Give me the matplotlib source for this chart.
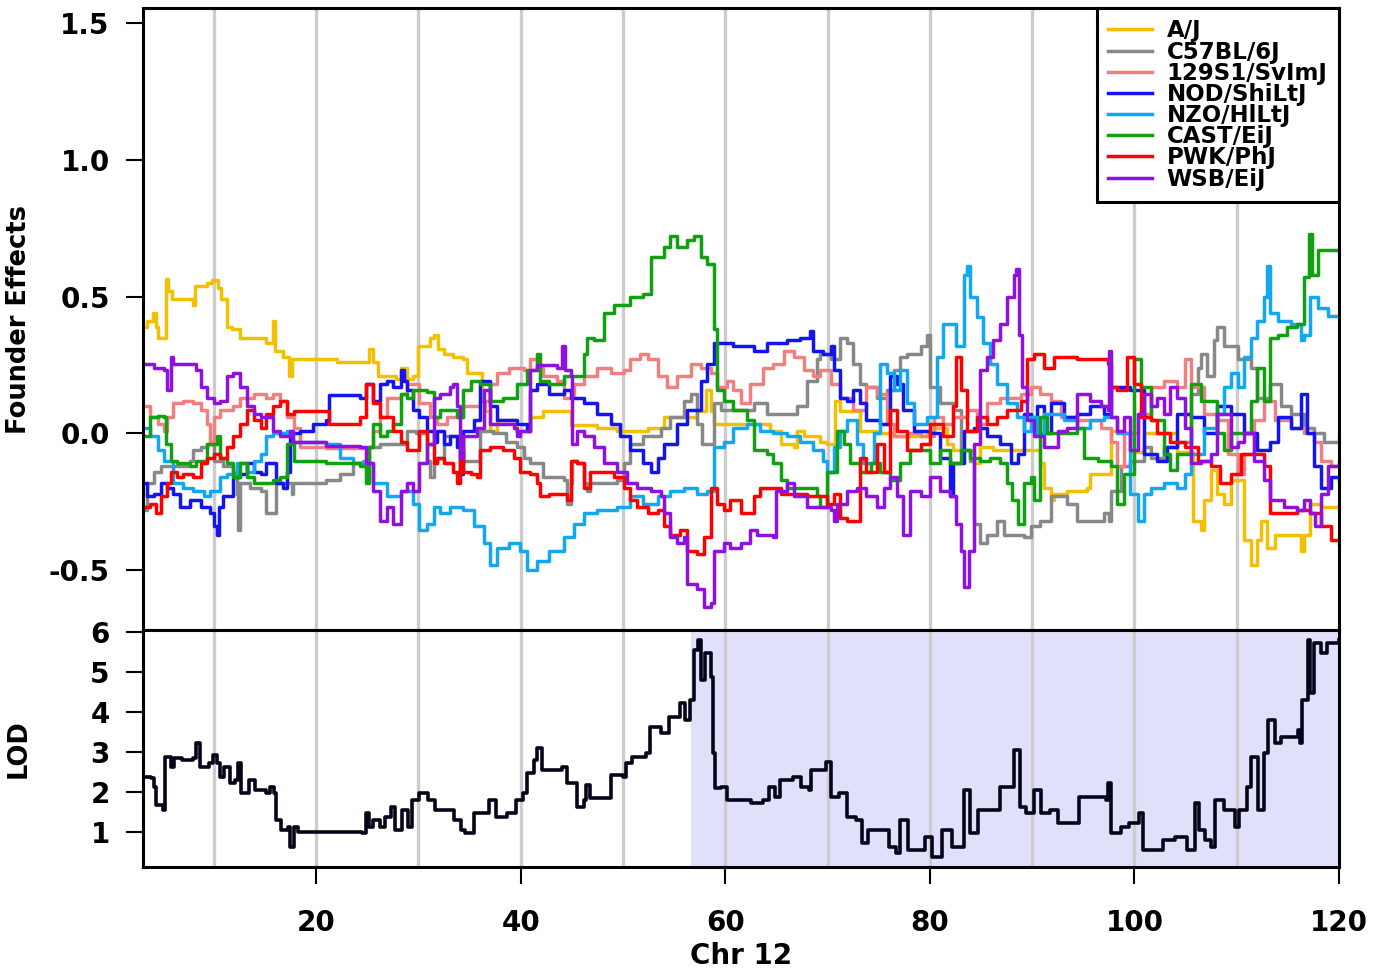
import numpy as np
import matplotlib
matplotlib.use("Agg")
import matplotlib.pyplot as plt

plt.rcParams["font.family"] = ["DejaVu Sans"]
plt.rcParams["font.weight"] = "bold"

# founder allele effects along Chr 12 (cM)
strains = ["A/J", "C57BL/6J", "129S1/SvImJ", "NOD/ShiLtJ",
           "NZO/HlLtJ", "CAST/EiJ", "PWK/PhJ", "WSB/EiJ"]
colors = ["#F2C000", "#888888", "#F08080", "#1414F0",
          "#10A8F0", "#10A010", "#FF0000", "#9010E0"]

aj_x = [3.3, 3.5, 4.0, 4.3, 4.5, 5.1, 5.3, 5.5, 5.9, 8.0, 8.2, 9.3, 9.8, 10.4, 10.7, 11.3, 11.8, 12.6, 13.5, 15.1,
        15.8, 16.0, 16.8, 17.3, 17.6, 18.1, 21.3, 22.0, 25.2, 25.6, 26.0, 27.8, 28.3, 28.9, 29.5, 30.0, 31.1, 31.5,
        31.9, 32.5, 33.4, 34.4, 34.7, 36.2, 36.5, 37.0, 37.7, 39.5, 40.9, 42.2, 44.9, 47.5, 49.4, 52.4, 54.0, 56.0,
        57.25, 58.1, 58.6, 58.9, 62.8, 64.4, 65.4, 66.7, 67.0, 67.7, 69.3, 69.9, 70.7, 71.2, 73.2, 74.8, 76.5, 79.7,
        80.4, 81.7, 82.3, 84.3, 84.9, 86.2, 88.6, 90.8, 91.2, 91.8, 92.1, 93.4, 95.4, 95.7, 97.7, 98.7, 99.6, 100.9,
        104.2, 105.7, 106.5, 106.8, 107.5, 108.1, 108.8, 109.4, 110.7, 111.4, 112.0, 112.4, 113.0, 113.7, 116.3,
        116.6, 117.2, 118.2, 120.0]
aj_y = [0.39, 0.41, 0.44, 0.39, 0.35, 0.35, 0.565, 0.52, 0.49, 0.47, 0.54, 0.55, 0.56, 0.53, 0.49, 0.39, 0.38, 0.35,
        0.35, 0.33, 0.41, 0.30, 0.28, 0.21, 0.27, 0.27, 0.27, 0.26, 0.31, 0.26, 0.21, 0.20, 0.24, 0.20, 0.21, 0.32,
        0.35, 0.36, 0.31, 0.29, 0.28, 0.27, 0.22, 0.12, 0.08, 0.01, 0.05, 0.01, 0.06, 0.08, 0.03, 0.02, 0.01, 0.02,
        0.06, 0.06, 0.08, 0.16, 0.08, 0.035, 0.035, 0.01, -0.04, -0.05, 0.01, -0.01, -0.03, -0.04, 0.12, 0.08, 0.01,
        0.0, -0.01, 0.0, 0.02, -0.04, -0.06, -0.11, -0.05, -0.06, -0.06, -0.11, -0.20, -0.245, -0.22, -0.21, -0.20,
        -0.15, 0.01, 0.0, -0.07, 0.0, -0.07, -0.32, -0.355, -0.245, -0.135, -0.22, -0.26, -0.17, -0.39, -0.48, -0.39,
        -0.32, -0.42, -0.37, -0.43, -0.37, -0.26, -0.27, -0.28]

b6_x = [3.3, 3.5, 4.1, 4.8, 7.7, 8.0, 8.7, 9.3, 10.0, 10.9, 11.9, 12.3, 12.4, 12.6, 13.5, 14.6, 15.1, 16.1, 17.6,
        17.7, 21.0, 22.3, 23.6, 24.6, 25.2, 26.2, 28.9, 29.8, 30.8, 31.1, 31.5, 31.8, 32.5, 34.4, 36.0, 37.3, 38.6,
        39.6, 40.3, 40.9, 42.2, 44.2, 44.5, 44.9, 45.0, 45.5, 46.2, 46.5, 46.8, 49.4, 50.1, 50.7, 52.0, 53.7, 54.6,
        56.0, 56.6, 57.25, 57.7, 58.9, 59.6, 62.8, 64.1, 67.0, 68.0, 69.0, 69.3, 70.3, 71.2, 71.9, 72.5, 73.2, 73.8,
        74.8, 75.8, 76.5, 77.1, 77.8, 79.1, 79.7, 80.0, 81.0, 82.3, 83.0, 83.9, 84.3, 84.9, 85.6, 86.6, 87.2, 89.2,
        89.9, 90.8, 91.8, 93.4, 94.4, 97.0, 97.5, 97.7, 98.7, 99.6, 100.9, 101.6, 102.9, 104.2, 105.5, 106.2, 106.5,
        107.1, 107.8, 108.1, 108.8, 110.1, 111.4, 112.0, 113.3, 114.3, 115.3, 116.6, 117.6, 118.5, 120.0]
b6_y = [-0.28, -0.18, -0.14, -0.12, -0.10, -0.06, -0.05, -0.04, -0.10, -0.12, -0.14, -0.22, -0.355, -0.18, -0.20,
        -0.21, -0.29, -0.18, -0.22, -0.18, -0.17, -0.15, -0.11, -0.10, -0.05, -0.04, 0.01, 0.0, -0.10, -0.16, -0.11,
        -0.09, -0.01, -0.10, 0.01, 0.0, -0.03, -0.05, -0.09, -0.11, -0.16, -0.17, -0.26, -0.18, -0.10, -0.11, -0.18,
        -0.21, -0.18, -0.17, -0.11, -0.04, -0.01, 0.02, 0.06, 0.12, 0.145, 0.035, -0.04, 0.11, 0.085, 0.11, 0.07,
        0.10, 0.19, 0.27, 0.29, 0.27, 0.35, 0.33, 0.255, 0.18, 0.17, 0.13, 0.16, 0.23, 0.28, 0.29, 0.32, 0.36, 0.17,
        0.11, 0.085, -0.06, -0.10, -0.33, -0.40, -0.37, -0.32, -0.37, -0.38, -0.34, -0.32, -0.23, -0.26, -0.32,
        -0.29, -0.32, -0.21, -0.12, -0.10, -0.05, -0.09, -0.05, -0.03, 0.145, 0.24, 0.29, 0.21, 0.34, 0.39, 0.32,
        0.27, 0.24, 0.13, 0.18, 0.10, 0.07, 0.02, 0.0, -0.03, -0.01]

s129_x = [3.3, 3.8, 4.5, 5.1, 5.4, 6.0, 7.0, 8.0, 8.7, 9.3, 9.6, 10.0, 10.6, 11.9, 12.6, 13.9, 15.1, 15.8, 16.5,
          17.1, 17.8, 18.4, 21.0, 24.9, 25.6, 26.2, 26.9, 28.3, 28.9, 30.1, 31.1, 31.8, 32.8, 34.4, 36.0, 37.0,
          37.7, 38.9, 40.3, 40.9, 41.6, 42.2, 43.5, 44.2, 45.2, 46.2, 47.5, 48.8, 50.1, 50.7, 51.7, 52.4, 53.4,
          54.3, 55.3, 56.6, 57.6, 58.6, 59.2, 60.2, 60.8, 61.5, 62.4, 63.7, 64.7, 65.7, 66.7, 67.7, 68.6, 69.3,
          70.3, 71.2, 72.5, 73.8, 74.8, 75.8, 76.5, 77.8, 79.1, 80.4, 81.3, 82.3, 83.6, 84.6, 85.6, 86.9, 88.9,
          89.9, 90.8, 91.8, 92.8, 94.4, 96.7, 97.7, 98.3, 99.0, 100.3, 101.6, 102.9, 104.2, 104.9, 105.5, 106.8,
          108.1, 109.1, 110.1, 110.7, 111.7, 112.7, 113.7, 115.3, 116.6, 117.6, 118.2, 119.2, 120.0]
s129_y = [0.10, 0.06, 0.035, 0.01, 0.06, 0.11, 0.12, 0.11, 0.085, 0.035, -0.03, 0.06, 0.085, 0.10, 0.13, 0.145,
          0.13, 0.145, 0.12, 0.06, 0.02, -0.05, -0.055, -0.05, 0.01, 0.06, 0.13, 0.145, 0.18, 0.11, 0.06, 0.035,
          0.06, 0.10, 0.12, 0.18, 0.22, 0.24, 0.23, 0.27, 0.24, 0.21, 0.19, 0.13, 0.18, 0.21, 0.24, 0.22, 0.23,
          0.27, 0.29, 0.27, 0.21, 0.17, 0.21, 0.255, 0.24, 0.22, 0.17, 0.19, 0.16, 0.11, 0.18, 0.24, 0.255, 0.30,
          0.28, 0.23, 0.21, 0.23, 0.18, 0.13, 0.085, 0.17, 0.145, 0.035, -0.01, 0.0, -0.01, 0.06, 0.035, 0.06,
          0.085, 0.035, 0.11, 0.13, 0.145, 0.17, 0.145, 0.12, 0.06, 0.05, 0.02, -0.03, -0.12, 0.0, 0.07, 0.17,
          0.19, 0.17, 0.27, 0.17, 0.07, 0.05, -0.075, -0.15, -0.075, 0.05, 0.12, 0.05, 0.02, 0.0, -0.03, -0.10,
          -0.12, -0.12]

nod_x = [3.3, 3.5, 4.1, 4.8, 5.4, 6.0, 6.7, 7.7, 8.7, 9.6, 10.0, 10.3, 10.5, 10.9, 11.9, 12.6, 13.2, 13.9, 14.6,
         15.1, 16.1, 16.8, 17.1, 17.4, 18.4, 19.7, 21.0, 21.3, 24.3, 24.9, 25.6, 26.2, 26.9, 27.5, 28.3, 28.6, 28.9,
         29.5, 30.1, 30.8, 31.5, 31.8, 32.5, 33.1, 33.8, 34.1, 34.4, 35.4, 36.0, 37.0, 37.7, 39.6, 40.6, 40.9, 41.6,
         42.8, 44.2, 44.9, 46.2, 47.5, 48.8, 49.7, 50.7, 52.0, 52.7, 53.4, 54.0, 55.3, 56.3, 57.6, 58.2, 58.9, 60.8,
         62.8, 64.1, 66.0, 67.3, 68.3, 68.6, 69.6, 70.3, 70.6, 71.2, 71.9, 72.5, 73.2, 73.8, 75.1, 76.1, 76.8, 77.4,
         78.4, 80.0, 81.0, 82.0, 82.3, 83.3, 84.3, 85.6, 86.9, 87.9, 88.6, 89.2, 89.9, 90.5, 91.2, 91.8, 93.1, 94.4,
         95.7, 97.0, 97.7, 99.6, 100.9, 102.2, 103.2, 104.2, 105.5, 106.8, 108.1, 109.4, 110.7, 112.0, 113.3,
         114.0, 115.3, 116.3, 116.9, 117.6, 118.2, 119.2, 120.0]
nod_y = [-0.18, -0.23, -0.22, -0.18, -0.20, -0.22, -0.27, -0.245, -0.27, -0.29, -0.34, -0.37, -0.27, -0.23, -0.16,
         -0.15, -0.11, -0.14, -0.15, -0.11, -0.18, -0.20, -0.14, 0.0, 0.01, 0.035, 0.05, 0.14, 0.13, 0.18, 0.12,
         0.18, 0.19, 0.17, 0.23, 0.19, 0.16, 0.085, 0.06, 0.01, -0.03, 0.01, -0.04, -0.01, -0.05, -0.15, 0.01,
         0.05, 0.19, 0.10, 0.05, 0.035, 0.01, 0.16, 0.18, 0.145, 0.16, 0.13, 0.11, 0.07, 0.035, -0.01, -0.06,
         -0.11, -0.14, -0.09, -0.04, 0.035, 0.085, 0.19, 0.255, 0.33, 0.32, 0.30, 0.33, 0.34, 0.35, 0.375, 0.30,
         0.29, 0.32, 0.23, 0.13, 0.12, 0.16, 0.11, 0.05, 0.035, 0.21, 0.18, 0.085, 0.01, 0.0, -0.09, -0.23, -0.11,
         0.01, 0.02, -0.01, -0.04, -0.11, -0.075, 0.07, 0.05, 0.10, 0.0, 0.11, 0.06, 0.07, 0.10, 0.07, 0.17, 0.16,
         -0.075, -0.10, -0.05, 0.07, 0.06, 0.0, 0.10, 0.07, 0.0, -0.06, -0.03, 0.06, 0.02, 0.145, 0.0, -0.12,
         -0.20, -0.16, -0.17]

nzo_x = [3.3, 3.8, 4.5, 5.1, 6.0, 7.0, 8.0, 9.0, 9.6, 10.6, 11.3, 12.3, 13.2, 13.9, 14.6, 15.1, 15.8, 17.1, 17.7,
         21.0, 22.3, 23.6, 25.6, 26.9, 28.3, 29.5, 30.1, 30.8, 31.5, 32.1, 33.1, 34.4, 35.4, 36.4, 37.0, 37.7, 38.9,
         39.9, 40.6, 41.6, 42.8, 44.2, 45.2, 46.2, 47.5, 49.4, 50.7, 52.0, 53.4, 54.6, 56.0, 57.25, 58.2, 58.9, 59.9,
         60.8, 62.1, 63.4, 64.7, 66.0, 67.3, 68.6, 69.6, 69.9, 70.6, 71.2, 71.9, 72.9, 73.5, 74.5, 75.1, 75.8, 76.5,
         77.1, 77.8, 78.4, 79.7, 80.7, 81.3, 82.3, 82.6, 83.3, 83.6, 83.9, 84.6, 85.2, 85.9, 86.6, 87.5, 88.5, 89.2,
         89.9, 90.5, 91.2, 93.1, 94.4, 95.7, 97.0, 98.3, 99.6, 100.3, 100.9, 101.6, 102.9, 104.2, 104.9, 105.5,
         106.8, 108.1, 108.8, 109.4, 110.1, 110.7, 111.4, 112.0, 112.7, 113.0, 113.3, 114.0, 115.3, 116.3, 116.6,
         117.2, 117.9, 118.9, 120.0]
nzo_y = [0.02, -0.01, -0.06, -0.10, -0.18, -0.20, -0.21, -0.23, -0.21, -0.16, -0.15, -0.11, -0.14, -0.10, -0.075,
         -0.01, 0.0, 0.01, -0.03, -0.04, -0.09, -0.11, -0.18, -0.23, -0.21, -0.26, -0.355, -0.33, -0.27, -0.29,
         -0.27, -0.28, -0.34, -0.40, -0.48, -0.42, -0.40, -0.43, -0.50, -0.465, -0.43, -0.38, -0.33, -0.29, -0.28,
         -0.27, -0.23, -0.26, -0.23, -0.21, -0.20, -0.22, -0.21, -0.05, -0.03, 0.02, 0.035, 0.01, 0.0, -0.01, -0.03,
         -0.06, -0.10, -0.14, -0.05, 0.01, 0.05, -0.04, -0.11, 0.0, 0.255, 0.22, 0.16, 0.23, 0.11, 0.035, 0.06,
         0.28, 0.40, 0.40, 0.32, 0.58, 0.61, 0.50, 0.425, 0.33, 0.255, 0.18, 0.11, 0.06, 0.01, 0.06, 0.0, 0.07,
         0.05, 0.02, 0.05, 0.06, 0.0, -0.22, -0.32, -0.22, -0.20, -0.18, -0.20, -0.15, -0.075, 0.02, 0.07, 0.17,
         0.22, 0.17, 0.28, 0.35, 0.41, 0.50, 0.61, 0.44, 0.41, 0.40, 0.34, 0.36, 0.50, 0.46, 0.43, 0.43]

cast_x = [3.3, 3.8, 4.5, 5.1, 5.3, 5.8, 6.4, 7.7, 8.3, 9.3, 10.3, 10.6, 11.3, 11.9, 12.6, 13.2, 13.9, 15.8, 16.5,
          17.1, 17.8, 21.0, 24.3, 24.9, 25.2, 25.6, 26.2, 26.9, 27.5, 28.3, 28.9, 29.5, 30.8, 31.5, 32.1, 33.8, 34.4,
          35.1, 36.0, 37.0, 38.3, 39.6, 40.6, 41.6, 41.9, 42.8, 44.2, 46.2, 46.5, 47.2, 48.1, 49.1, 50.7, 52.0, 52.7,
          54.0, 54.6, 55.3, 56.3, 56.9, 57.6, 58.2, 58.9, 59.2, 59.9, 60.8, 62.1, 62.8, 64.1, 64.7, 65.4, 66.0, 69.0,
          69.3, 69.9, 70.9, 71.6, 72.2, 73.2, 74.2, 75.1, 76.1, 77.1, 78.1, 80.0, 81.0, 82.0, 83.0, 83.9, 84.9, 85.9,
          86.9, 87.5, 88.0, 88.6, 89.2, 89.9, 90.2, 90.8, 91.5, 94.4, 95.1, 96.4, 97.7, 98.3, 99.0, 100.0, 100.6,
          101.6, 102.9, 103.5, 104.2, 105.5, 106.5, 108.1, 108.8, 109.4, 111.4, 112.0, 112.7, 113.3, 114.0, 114.9,
          115.9, 116.6, 117.1, 117.4, 117.9, 120.0]
cast_y = [-0.01, 0.06, 0.065, 0.06, -0.04, -0.10, -0.11, -0.12, -0.10, -0.04, -0.01, -0.09, -0.11, -0.16, -0.11,
          -0.16, -0.18, -0.17, -0.16, -0.04, -0.10, -0.11, -0.12, -0.18, -0.05, 0.035, -0.01, 0.01, 0.035, 0.145,
          0.13, 0.16, 0.15, 0.06, 0.085, 0.06, 0.16, 0.19, 0.18, 0.12, 0.13, 0.18, 0.23, 0.29, 0.19, 0.18, 0.21,
          0.29, 0.35, 0.34, 0.44, 0.47, 0.50, 0.51, 0.645, 0.68, 0.72, 0.68, 0.705, 0.72, 0.645, 0.62, 0.38, 0.16,
          0.12, 0.085, 0.05, -0.06, -0.075, -0.11, -0.17, -0.20, -0.23, -0.27, -0.14, 0.01, -0.04, -0.11, -0.14,
          -0.11, -0.14, -0.17, -0.11, -0.06, -0.11, -0.06, -0.11, -0.06, -0.09, -0.10, -0.09, -0.11, -0.18, -0.245,
          -0.33, -0.18, -0.16, -0.245, 0.06, 0.0, 0.02, -0.09, -0.10, -0.12, -0.26, -0.15, 0.27, 0.17, 0.05,
          -0.075, -0.135, -0.075, 0.18, 0.12, 0.0, -0.06, 0.0, 0.12, 0.24, 0.12, 0.35, 0.36, 0.39, 0.40, 0.57,
          0.73, 0.58, 0.67, 0.67]

pwk_x = [3.3, 3.8, 4.3, 4.8, 5.4, 5.8, 6.4, 7.0, 8.0, 8.7, 9.3, 10.0, 10.6, 11.3, 11.9, 12.6, 13.2, 13.9, 14.6, 15.1,
         15.8, 16.5, 17.1, 17.8, 21.3, 24.3, 24.9, 25.6, 26.2, 27.5, 28.3, 28.9, 30.1, 30.8, 31.5, 31.8, 32.5, 33.4,
         33.8, 34.1, 34.4, 35.1, 35.7, 36.0, 37.0, 38.3, 39.3, 39.9, 40.9, 41.6, 41.9, 42.8, 44.5, 44.9, 45.5, 46.2,
         46.8, 49.1, 50.1, 50.7, 51.4, 52.4, 53.4, 54.0, 54.6, 55.6, 56.3, 57.25, 57.9, 58.6, 59.2, 59.9, 60.5, 61.5,
         62.8, 63.4, 65.4, 68.0, 69.9, 70.6, 71.2, 71.9, 73.2, 73.8, 74.8, 75.5, 76.1, 76.8, 77.8, 79.1, 80.0, 81.3,
         82.3, 82.6, 83.0, 83.6, 84.6, 85.6, 86.6, 87.5, 88.9, 89.5, 90.2, 91.2, 92.1, 94.4, 97.4, 97.7, 98.3, 99.3,
         100.0, 100.6, 101.6, 102.2, 103.5, 104.9, 106.2, 107.5, 108.4, 109.4, 110.4, 112.7, 113.3, 115.9, 117.2,
         118.2, 119.2, 120.0]
pwk_y = [-0.27, -0.26, -0.29, -0.23, -0.18, -0.14, -0.16, -0.15, -0.16, -0.11, -0.09, -0.075, -0.09, -0.05, -0.01,
         0.035, 0.085, 0.05, 0.02, 0.07, 0.10, 0.12, 0.07, 0.08, 0.035, 0.06, 0.18, 0.11, 0.06, 0.01, -0.03, -0.06,
         0.01, -0.04, -0.11, -0.09, -0.11, -0.14, -0.18, -0.06, -0.14, -0.15, -0.16, -0.06, -0.05, -0.06, -0.09,
         -0.14, -0.15, -0.18, -0.23, -0.22, -0.245, -0.10, -0.11, -0.20, -0.14, -0.16, -0.20, -0.245, -0.27, -0.29,
         -0.28, -0.34, -0.37, -0.355, -0.43, -0.44, -0.38, -0.20, -0.26, -0.28, -0.245, -0.29, -0.23, -0.20, -0.22,
         -0.23, -0.26, -0.22, -0.31, -0.32, -0.09, -0.14, -0.04, -0.14, 0.085, 0.01, -0.06, -0.04, 0.035, -0.01,
         0.10, 0.28, 0.16, 0.01, 0.06, 0.035, 0.06, 0.085, 0.12, 0.27, 0.29, 0.24, 0.28, 0.27, 0.255, 0.17, 0.16,
         0.28, 0.18, 0.06, 0.05, 0.0, -0.03, -0.05, -0.10, -0.12, -0.18, -0.15, -0.075, -0.12, -0.29, -0.28, -0.29,
         -0.34, -0.39, -0.40]

wsb_x = [3.3, 4.1, 5.1, 5.4, 5.8, 6.0, 8.3, 8.7, 9.3, 10.0, 10.6, 11.3, 11.9, 12.6, 13.2, 13.9, 14.6, 15.8, 16.5,
         17.4, 17.7, 21.0, 24.3, 24.9, 25.6, 26.2, 26.9, 27.5, 28.3, 28.9, 29.5, 30.1, 30.8, 31.5, 32.1, 33.1, 33.4,
         33.8, 34.1, 34.4, 35.7, 36.4, 37.0, 39.3, 39.6, 39.9, 40.9, 41.6, 43.5, 44.0, 44.3, 44.9, 45.0, 45.5, 46.2,
         47.2, 48.1, 49.4, 50.4, 51.4, 52.7, 53.7, 54.0, 54.6, 55.3, 56.0, 56.3, 57.25, 57.9, 58.6, 58.9, 59.9, 60.5,
         61.5, 62.4, 63.1, 64.7, 65.0, 66.0, 66.7, 68.0, 70.3, 70.6, 70.9, 71.9, 72.9, 73.8, 74.8, 75.5, 76.1, 76.8,
         77.4, 78.1, 79.1, 80.0, 81.0, 82.0, 82.6, 83.0, 83.3, 83.8, 84.3, 84.9, 85.6, 86.2, 86.9, 87.5, 88.2, 88.4,
         88.7, 89.0, 89.5, 90.2, 91.2, 92.5, 93.4, 94.4, 95.7, 96.7, 97.4, 97.5, 97.7, 98.3, 99.0, 99.6, 100.3,
         100.9, 101.6, 102.2, 102.9, 103.5, 104.2, 104.9, 105.5, 106.5, 107.5, 108.1, 109.4, 110.1, 110.7, 111.7,
         112.7, 113.3, 114.6, 115.9, 116.6, 117.2, 117.7, 118.2, 118.9, 120.0]
wsb_y = [0.255, 0.24, 0.23, 0.16, 0.28, 0.255, 0.23, 0.17, 0.13, 0.11, 0.12, 0.21, 0.22, 0.17, 0.10, 0.07, 0.06,
         0.01, -0.01, 0.01, -0.03, -0.045, -0.05, -0.11, -0.21, -0.32, -0.27, -0.33, -0.21, -0.18, -0.21, -0.11,
         -0.04, 0.13, 0.145, 0.17, 0.18, 0.10, -0.09, -0.01, 0.02, 0.16, 0.035, 0.02, -0.01, 0.01, 0.23, 0.25, 0.24,
         0.32, 0.23, 0.21, -0.04, 0.01, -0.01, -0.05, -0.11, -0.14, -0.18, -0.20, -0.21, -0.23, -0.29, -0.38, -0.40,
         -0.38, -0.55, -0.57, -0.635, -0.62, -0.43, -0.40, -0.42, -0.40, -0.355, -0.37, -0.38, -0.21, -0.18, -0.23,
         -0.27, -0.28, -0.32, -0.26, -0.21, -0.20, -0.23, -0.27, -0.20, -0.16, -0.23, -0.37, -0.21, -0.23, -0.16,
         -0.21, -0.23, -0.33, -0.43, -0.56, -0.43, -0.04, 0.23, 0.28, 0.34, 0.40, 0.50, 0.58, 0.60, 0.36, 0.17,
         0.05, -0.01, -0.05, 0.01, 0.02, 0.145, 0.12, 0.10, 0.085, 0.30, 0.06, 0.01, 0.06, -0.06, 0.07, 0.145,
         0.10, 0.13, 0.07, 0.17, 0.13, 0.02, -0.11, -0.10, -0.075, 0.07, -0.05, -0.03, 0.0, -0.10, -0.17, -0.245,
         -0.27, -0.28, -0.245, -0.29, -0.34, -0.22, -0.12, -0.11]

# LOD profile
lod_x = [3.15, 3.9, 4.1, 4.3, 5.0, 5.2, 5.8, 6.1, 6.9, 8.0, 8.3, 8.6, 9.5, 9.9, 10.3, 10.6, 11.0, 11.6, 12.1, 12.4,
         12.7, 13.4, 14.0, 15.1, 15.5, 15.9, 16.1, 16.6, 17.2, 17.4, 17.8, 18.2, 21.1, 24.5, 24.9, 25.2, 25.6, 26.2,
         26.7, 27.3, 27.7, 28.4, 29.0, 29.4, 30.1, 30.9, 31.6, 33.5, 34.2, 34.6, 35.4, 36.9, 37.6, 38.7, 39.5, 40.2,
         40.6, 41.3, 41.6, 42.1, 44.0, 44.5, 45.5, 46.2, 46.4, 46.8, 48.8, 50.0, 50.3, 50.9, 52.2, 52.6, 53.7, 54.5,
         55.6, 56.1, 56.5, 56.9, 57.3, 57.6, 58.0, 58.6, 58.8, 59.0, 59.6, 60.2, 62.5, 63.7, 64.3, 64.9, 65.3, 66.6,
         67.4, 68.2, 68.4, 69.8, 70.3, 71.1, 71.9, 72.8, 73.4, 74.0, 76.0, 76.7, 77.1, 77.9, 79.5, 80.2, 81.2, 82.2,
         83.3, 83.9, 84.7, 86.9, 88.2, 88.8, 89.4, 90.2, 90.9, 91.7, 92.5, 94.6, 97.2, 97.4, 97.7, 98.7, 99.5, 100.4,
         100.8, 102.8, 104.0, 105.1, 105.9, 106.3, 106.9, 107.5, 107.9, 108.8, 109.8, 110.2, 111.0, 111.4, 112.1,
         112.7, 113.1, 113.7, 114.3, 116.0, 116.2, 116.4, 117.0, 117.2, 117.6, 118.2, 118.8, 120.0]
lod_y = [2.38, 2.34, 2.13, 1.68, 1.55, 2.88, 2.63, 2.84, 2.8, 2.84, 3.22, 2.63, 2.72, 2.93, 2.72, 2.38, 2.63, 2.22,
         2.3, 2.72, 1.97, 2.3, 2.05, 1.97, 2.13, 1.97, 1.3, 1.05, 1.13, 0.63, 1.13, 1.01, 1.01, 0.97, 1.47, 1.13, 1.3,
         1.13, 1.38, 1.63, 1.05, 1.55, 1.13, 1.8, 1.97, 1.8, 1.55, 1.3, 1.05, 0.97, 1.47, 1.8, 1.38, 1.47, 1.8, 1.97,
         2.47, 2.8, 3.09, 2.55, 2.63, 2.22, 1.63, 1.8, 2.18, 1.84, 2.43, 2.38, 2.72, 2.88, 2.97, 3.63, 3.47, 3.88,
         4.22, 3.8, 4.3, 5.55, 5.8, 4.8, 5.47, 4.88, 2.97, 2.1, 2.13, 1.8, 1.72, 1.8, 2.13, 1.88, 2.3, 2.38, 2.13,
         2.05, 2.55, 2.76, 1.88, 1.97, 1.38, 1.3, 0.72, 1.05, 0.63, 0.47, 1.3, 0.55, 0.88, 0.38, 1.05, 0.63, 2.05,
         0.97, 1.55, 2.13, 3.05, 1.63, 1.47, 2.05, 1.47, 1.55, 1.22, 1.88, 1.8, 2.22, 0.97, 1.13, 1.22, 1.47, 0.55,
         0.8, 0.88, 0.55, 1.72, 1.05, 0.8, 0.63, 1.8, 1.55, 1.13, 1.55, 2.13, 2.88, 1.55, 2.97, 3.8, 3.22, 3.38,
         3.55, 3.22, 4.3, 5.8, 4.47, 5.72, 5.47, 5.72, 5.8]

interval = (56.6, 120.0)
grid_pos = np.arange(10, 120, 10)

series = [(aj_x, aj_y), (b6_x, b6_y), (s129_x, s129_y), (nod_x, nod_y),
          (nzo_x, nzo_y), (cast_x, cast_y), (pwk_x, pwk_y), (wsb_x, wsb_y)]

W, H = 1373, 975
fig = plt.figure(figsize=(W / 100, H / 100), dpi=100)
left, right = 143 / W, 1339 / W
ax1 = fig.add_axes([left, 1 - 630 / H, right - left, (630 - 8) / H])
ax2 = fig.add_axes([left, 1 - 867 / H, right - left, (867 - 630) / H], sharex=ax1)

for ax in (ax1, ax2):
    for g in grid_pos:
        ax.axvline(g, color="#cccccc", lw=2.4, zorder=0.5)
    for sp in ax.spines.values():
        sp.set_linewidth(2.2)
    ax.tick_params(axis="y", direction="out", length=12, width=1.5, pad=12, labelsize=20)
    ax.yaxis.set_label_coords(-0.093, 0.5)

for (x, y), c, name in zip(series, colors, strains):
    ax1.plot(x, y, drawstyle="steps-post", color=c, lw=2.5, label=name, zorder=2)

ax1.set_xlim(3.07, 120)
ax1.set_ylim(-0.719, 1.555)
ax1.set_yticks([-0.5, 0.0, 0.5, 1.0, 1.5])
ax1.set_yticklabels(["-0.5", "0.0", "0.5", "1.0", "1.5"])
ax1.tick_params(axis="x", bottom=False, labelbottom=False)
ax1.set_ylabel("Founder Effects", fontsize=18.5, fontweight="bold")

leg = ax1.legend(loc="upper right", bbox_to_anchor=(1.0, 1.0), borderaxespad=0,
                 fancybox=False, framealpha=1, edgecolor="black",
                 prop={"size": 16.5, "weight": "bold"}, handlelength=1.9,
                 handletextpad=0.65, labelspacing=-0.08, borderpad=0.5)
leg.get_frame().set_linewidth(2.2)
for line in leg.get_lines():
    line.set_linewidth(2.5)

ax2.axvspan(*interval, color="#e0e0fa", lw=0, zorder=0)
ax2.plot(lod_x, lod_y, drawstyle="steps-post", color="#05051a", lw=2.6, zorder=2)
ax2.set_ylim(0.125, 6.05)
ax2.set_yticks([1, 2, 3, 4, 5, 6])
ax2.set_xticks([20, 40, 60, 80, 100, 120])
ax2.tick_params(axis="x", direction="out", length=12, width=1.5, pad=18, labelsize=20)
ax2.set_ylabel("LOD", fontsize=18.5, fontweight="bold")
ax2.set_xlabel("Chr 12", fontsize=20, fontweight="bold", labelpad=4)

fig.savefig("out.png", dpi=100)
